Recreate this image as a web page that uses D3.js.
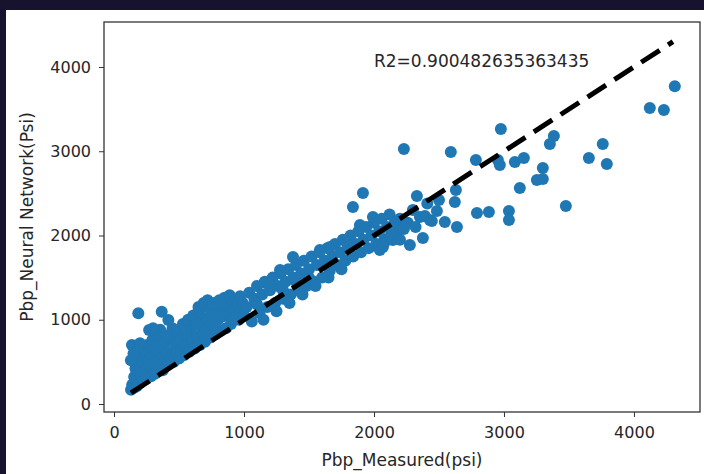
<!DOCTYPE html>
<head>
    <meta charset='utf-8'>
    <title>Pbp measured vs neural network</title>
    <script src='https://d3js.org/d3.v7.min.js'></script>
    <style>
        html, body {
            margin: 0px;
            padding: 0px;
            background: #17132e;
        }
        svg {
            display: block;
        }
        text {
            font-family: 'DejaVu Sans', sans-serif;
            fill: #262626;
        }
    </style>
</head>
<body>
    <div id='chart'></div>
    <script>
        // values: [measured, predicted] in psi
        var lowBand = [
            [131,170],[140,230],[150,190],[155,320],[160,260],[165,420],[170,350],[175,210],[180,500],[185,290],
            [190,380],[195,600],[200,250],[205,450],[210,330],[215,540],[220,290],[225,660],[230,400],[235,480],
            [240,350],[245,580],[250,300],[255,700],[260,430],[265,520],[270,360],[275,620],[280,470],[285,330],
            [290,560],[295,760],[300,400],[305,650],[310,500],[315,360],[320,580],[325,700],[330,450],[335,800],
            [340,390],[345,620],[350,520],[355,880],[360,440],[365,720],[370,580],[375,400],[380,660],[385,820],
            [390,500],[395,740],[400,450],[138,700],[187,1076],[367,1096],[418,997],[270,878],[585,819],[130,520],
            [150,600],[200,720],[300,900]
        ];
        var midBand = [
            [410,620],[420,480],[430,780],[440,560],[450,900],[460,500],[470,700],[480,600],[490,850],[500,540],
            [510,760],[520,650],[530,950],[540,580],[550,820],[560,700],[570,1000],[580,620],[590,880],[600,760],
            [610,1050],[620,660],[630,940],[640,800],[650,1100],[660,700],[670,980],[680,850],[690,1150],[700,740],
            [710,1020],[720,900],[730,1180],[740,790],[750,1060],[760,950],[770,1200],[780,830],[790,1100],[800,1000],
            [810,1230],[820,870],[830,1150],[840,1040],[850,1260],[860,900],[870,1180],[880,1080],[890,1290],[900,950],
            [910,1200],[920,1120],[930,1020],[940,1240],[950,1160],[960,1000],[970,1280],[980,1100],[990,1200],[1000,1050],
            [690,1200],[720,1230],[760,1190],[650,1150]
        ];
        var upperBand = [
            [1020,1150],[1040,1320],[1060,980],[1080,1250],[1100,1400],[1120,1080],[1140,1300],[1160,1450],[1180,1150],[1200,1350],
            [1220,1500],[1240,1200],[1260,1400],[1280,1550],[1300,1250],[1320,1450],[1340,1600],[1360,1300],[1380,1500],[1400,1650],
            [1420,1350],[1440,1550],[1460,1700],[1480,1400],[1500,1600],[1520,1750],[1540,1450],[1560,1650],[1580,1800],[1600,1500],
            [1620,1700],[1640,1850],[1660,1580],[1680,1750],[1700,1900],[1720,1650],[1740,1800],[1760,1950],[1780,1700],[1800,1850],
            [1820,2000],[1840,1750],[1860,1900],[1880,2050],[1900,1800],[1920,1950],[1940,2100],[1960,1850],[1980,2000],[2000,2150],
            [2020,1900],[2040,2050],[2060,2200],[2080,1950],[2100,2100],[2120,2250],[2140,2000],[2160,2150],[2180,2050],[2200,2200],
            [1838,2338],[1915,2504],[1992,2220],[1892,2125],[1792,1911],[1661,1864],[1584,1828],[1377,1745],[1277,1590],[1160,1440],
            [1200,1400],[1100,1180],[1300,1350],[1400,1450],[1500,1500],[1150,1000],[1250,1100],[1350,1200],[1450,1300],[1550,1400],
            [1650,1500],[1750,1600]
        ];
        var tail = [
            [2045,1828],[2069,1864],[2084,1923],[2122,1982],[2145,1947],[2199,2101],[2230,2077],[2276,1887],[2299,2303],[2353,2220],
            [2376,1970],[2392,2231],[2430,2184],[2445,2172],[2484,2291],[2545,2160],[2638,2101],[2622,2398],[2330,2469],[2630,2540],
            [2230,3027],[2591,2991],[2784,2896],[2953,2896],[2968,2837],[2976,3264],[3084,2873],[3153,2920],[3384,3181],[3353,3086],
            [3760,3086],[3653,2920],[3791,2849],[3299,2801],[3253,2659],[3299,2671],[3122,2564],[2792,2267],[2884,2279],[3038,2291],
            [3038,2184],[3476,2350],[4122,3513],[4230,3490],[4314,3772],[2260,2150],[2320,2100],[2410,2380],[2500,2420],[2200,1950]
        ];
        var fitLine = [131, 4300];          // y = x reference line
        var xTicks = [0, 1000, 2000, 3000, 4000];
        var yTicks = [0, 1000, 2000, 3000, 4000];
        var r2Label = 'R2=0.900482635363435';
        var r2Pos = [2000, 4000];

        var W = 704, H = 474;
        var mLeft = 104, mRight = 700, mTop = 22, mBottom = 412;

        var svg = d3.select('#chart').append('svg')
            .attr('width', W)
            .attr('height', H);

        // white figure panel on the dark page
        svg.append('rect')
            .attr('x', 6).attr('y', 10)
            .attr('width', W - 6).attr('height', H - 10)
            .attr('fill', '#ffffff');

        var x = d3.scaleLinear().domain([-77, 4508]).range([mLeft, mRight]);
        var y = d3.scaleLinear().domain([-95, 4534]).range([mBottom, mTop]);

        var pts = lowBand.concat(midBand, upperBand, tail);

        svg.append('g')
            .selectAll('circle')
            .data(pts)
            .enter()
            .append('circle')
            .attr('cx', function(d) { return x(d[0]); })
            .attr('cy', function(d) { return y(d[1]); })
            .attr('r', 6)
            .attr('fill', '#1f77b4');

        svg.append('line')
            .attr('x1', x(fitLine[0])).attr('y1', y(fitLine[0]))
            .attr('x2', x(fitLine[1])).attr('y2', y(fitLine[1]))
            .attr('stroke', '#000')
            .attr('stroke-width', 5)
            .attr('stroke-dasharray', '22,10');

        svg.append('text')
            .attr('x', x(r2Pos[0]))
            .attr('y', y(r2Pos[1]))
            .style('font-size', '17px')
            .text(r2Label);

        // axes
        var xAxis = svg.append('g')
            .attr('transform', 'translate(0,' + mBottom + ')')
            .call(d3.axisBottom(x).tickValues(xTicks).tickSize(5).tickPadding(10).tickFormat(d3.format('d')));
        var yAxis = svg.append('g')
            .attr('transform', 'translate(' + mLeft + ',0)')
            .call(d3.axisLeft(y).tickValues(yTicks).tickSize(5).tickPadding(8).tickFormat(d3.format('d')));

        [xAxis, yAxis].forEach(function(a) {
            a.select('.domain').remove();
            a.selectAll('line').attr('stroke', '#333');
            a.selectAll('text')
                .style('font-size', '16px')
                .style('font-family', "'DejaVu Sans', sans-serif")
                .attr('fill', '#262626');
        });

        svg.append('rect')
            .attr('x', mLeft).attr('y', mTop)
            .attr('width', mRight - mLeft).attr('height', mBottom - mTop)
            .attr('fill', 'none')
            .attr('stroke', '#333')
            .attr('stroke-width', 1.3);

        svg.append('text')
            .attr('x', (mLeft + mRight) / 2)
            .attr('y', 466)
            .attr('text-anchor', 'middle')
            .style('font-size', '17px')
            .text('Pbp_Measured(psi)');

        svg.append('text')
            .attr('transform', 'translate(33,' + (mTop + mBottom) / 2 + ') rotate(-90)')
            .attr('text-anchor', 'middle')
            .style('font-size', '17px')
            .text('Pbp_Neural Network(Psi)');
    </script>
</body>
